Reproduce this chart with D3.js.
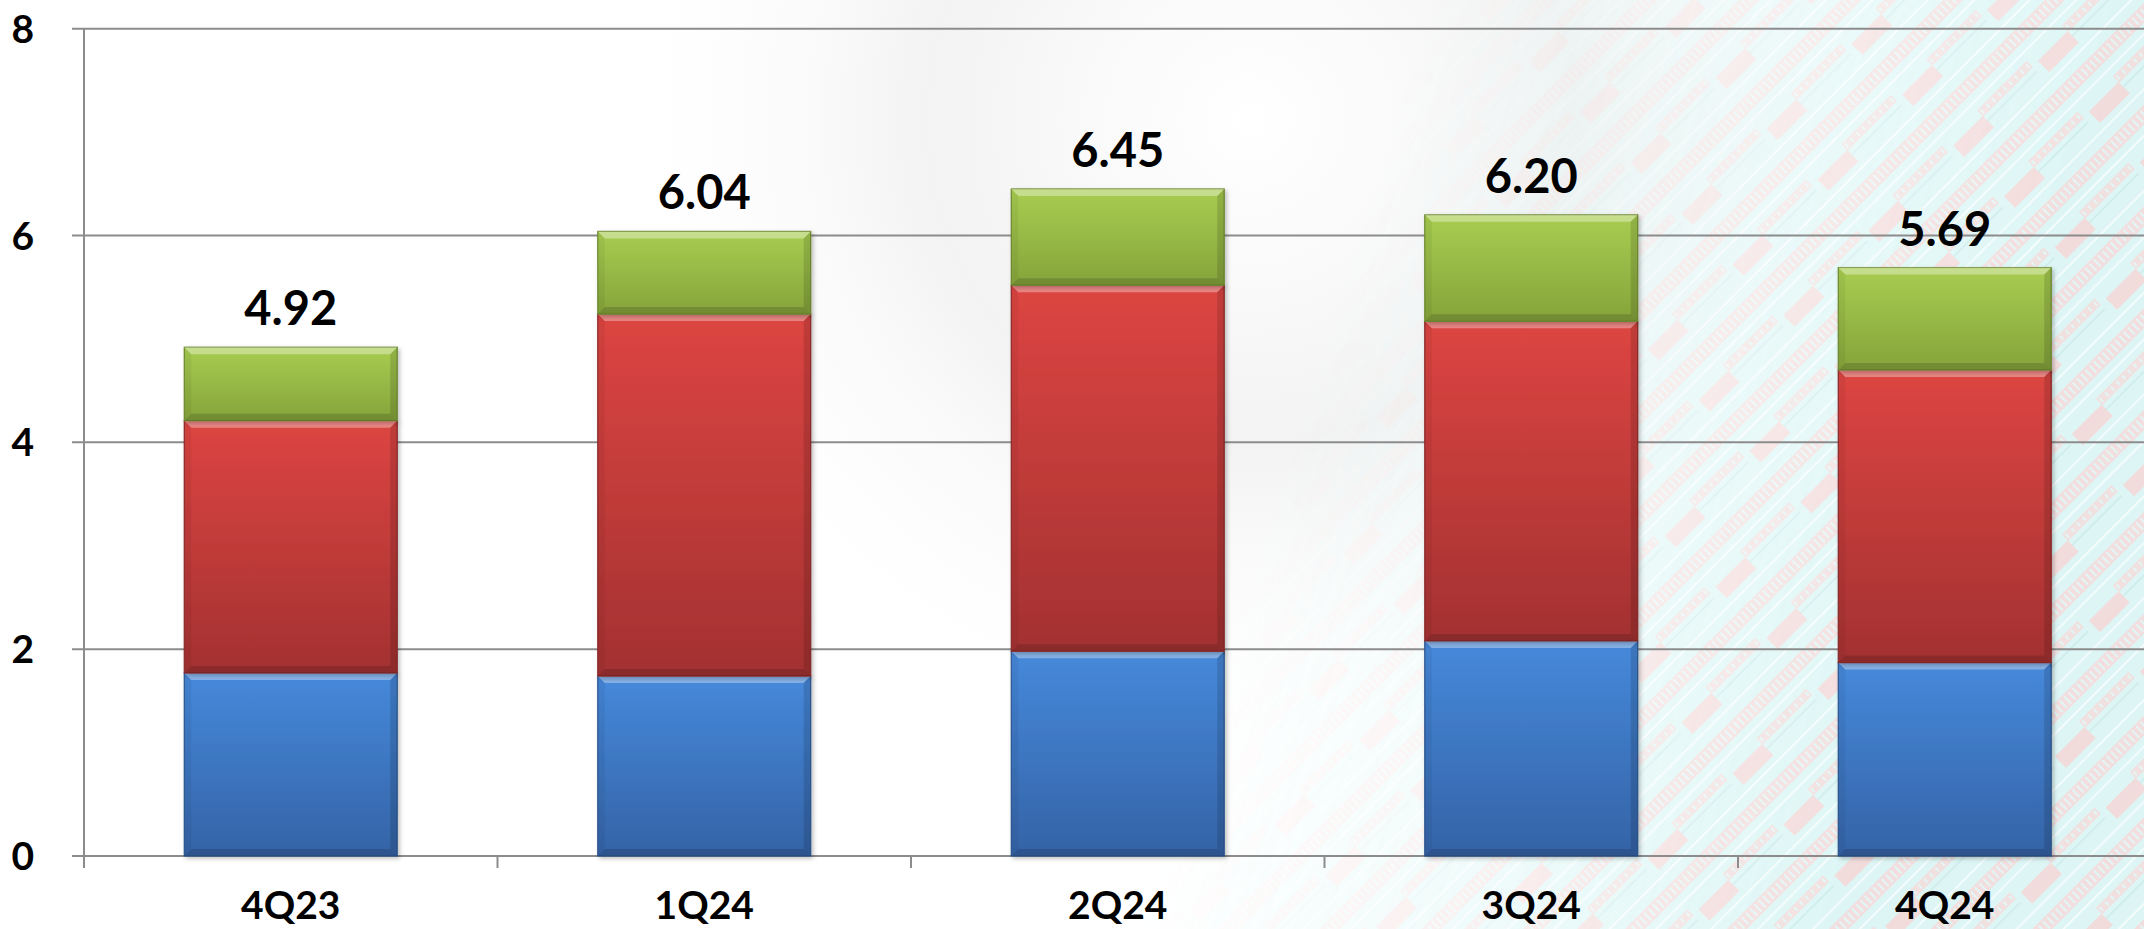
<!DOCTYPE html>
<html>
<head>
<meta charset="utf-8">
<script src="https://cdn.jsdelivr.net/npm/d3@7/dist/d3.min.js"></script>
<style>
  html, body { margin: 0; padding: 0; background: #ffffff; }
  svg { display: block; }
  text { font-family: Lato, "Open Sans", sans-serif; font-weight: 700; fill: #000; }
</style>
</head>
<body>
<svg id="chart" width="2144" height="929"></svg>
<script>
// ---- data ----
const categories = ["4Q23", "1Q24", "2Q24", "3Q24", "4Q24"];
const blueValues  = [1.77, 1.74, 1.98, 2.08, 1.87];
const redValues   = [2.44, 3.50, 3.54, 3.09, 2.83];
const greenValues = [0.71, 0.80, 0.93, 1.03, 0.99];
const totalLabels = ["4.92", "6.04", "6.45", "6.20", "5.69"];
const yTicks = [0, 2, 4, 6, 8];

const seriesKeys = ["blue", "red", "green"];
const seriesColors = {
  blue:  { top: "#4689db", bottom: "#3463a6", stroke: "#2c5690" },
  red:   { top: "#dd4542", bottom: "#a33131", stroke: "#8c2a2a" },
  green: { top: "#a8cd51", bottom: "#85a43b", stroke: "#6f8b30" }
};

const rows = categories.map((c, i) => ({
  cat: c, blue: blueValues[i], red: redValues[i], green: greenValues[i], label: totalLabels[i]
}));

const W = 2144, H = 929;
const svg = d3.select("#chart");
const defs = svg.append("defs");

// ---- background ----
const pat = defs.append("pattern").attr("id", "circuit")
  .attr("patternUnits", "userSpaceOnUse").attr("width", 120).attr("height", 72)
  .attr("patternTransform", "rotate(-45)");
pat.append("rect").attr("width", 120).attr("height", 72).attr("fill", "#d5f4f3");
pat.append("rect").attr("x", 0).attr("y", 6).attr("width", 120).attr("height", 14).attr("fill", "#f0d6d6");
pat.append("rect").attr("x", 0).attr("y", 36).attr("width", 70).attr("height", 9).attr("fill", "#eed9d9");
pat.append("rect").attr("x", 78).attr("y", 44).attr("width", 42).attr("height", 16).attr("fill", "#f0d3d3");
for (let k = 0; k < 120; k += 6) {
  pat.append("rect").attr("x", k).attr("y", 8).attr("width", 2).attr("height", 10).attr("fill", "#dcf5f4");
}
for (let k = 2; k < 70; k += 8) {
  pat.append("rect").attr("x", k).attr("y", 38).attr("width", 2).attr("height", 5).attr("fill", "#dcf5f4");
}
pat.append("rect").attr("x", 0).attr("y", 27).attr("width", 120).attr("height", 2).attr("fill", "#f1fbfb");
pat.append("rect").attr("x", 0).attr("y", 66).attr("width", 120).attr("height", 2).attr("fill", "#f1fbfb");
pat.append("rect").attr("x", 0).attr("y", 50).attr("width", 70).attr("height", 1.5).attr("fill", "#bfe6e5");

const mg = defs.append("linearGradient").attr("id", "fadeGrad")
  .attr("gradientUnits", "userSpaceOnUse")
  .attr("x1", 1250).attr("y1", 560).attr("x2", 1880).attr("y2", 760);
mg.append("stop").attr("offset", 0).attr("stop-color", "#000");
mg.append("stop").attr("offset", 0.5).attr("stop-color", "#777");
mg.append("stop").attr("offset", 1).attr("stop-color", "#fff");
const mask = defs.append("mask").attr("id", "fadeMask")
  .attr("maskUnits", "userSpaceOnUse").attr("x", 0).attr("y", 0).attr("width", W).attr("height", H);
mask.append("rect").attr("width", W).attr("height", H).attr("fill", "url(#fadeGrad)");

const swirl = defs.append("radialGradient").attr("id", "swirl")
  .attr("gradientUnits", "userSpaceOnUse").attr("cx", 1250).attr("cy", 120).attr("r", 650);
swirl.append("stop").attr("offset", 0).attr("stop-color", "#e8e8e8").attr("stop-opacity", 0.0);
swirl.append("stop").attr("offset", 0.5).attr("stop-color", "#e4e4e4").attr("stop-opacity", 0.45);
swirl.append("stop").attr("offset", 1).attr("stop-color", "#ffffff").attr("stop-opacity", 0);

svg.append("rect").attr("width", W).attr("height", H).attr("fill", "#ffffff");
svg.append("rect").attr("width", W).attr("height", H).attr("fill", "url(#swirl)");
svg.append("rect").attr("width", W).attr("height", H).attr("fill", "url(#circuit)")
  .attr("mask", "url(#fadeMask)").attr("opacity", 0.8);

// ---- scales ----
const x = d3.scaleBand().domain(categories).range([84, 2151.5])
  .paddingInner(0.485).paddingOuter(0.2425);
const y = d3.scaleLinear().domain([0, 8]).range([856, 28.7]);

// ---- grid ----
svg.append("g").selectAll("line").data(yTicks).join("line")
  .attr("x1", 72).attr("x2", W).attr("y1", d => y(d)).attr("y2", d => y(d))
  .attr("stroke", "#8c8c8c").attr("stroke-width", 2);

// y axis line
svg.append("line").attr("x1", 84).attr("x2", 84).attr("y1", y(8)).attr("y2", 868)
  .attr("stroke", "#8c8c8c").attr("stroke-width", 2);

// x ticks at band boundaries
const step = x.step();
const boundaries = categories.slice(1).map(c => x(c) - step * x.paddingInner() / 2);
svg.append("g").selectAll("line").data(boundaries).join("line")
  .attr("x1", d => d).attr("x2", d => d).attr("y1", y(0)).attr("y2", 868)
  .attr("stroke", "#8c8c8c").attr("stroke-width", 2);

// y labels
svg.append("g").selectAll("text").data(yTicks).join("text")
  .attr("x", 34).attr("y", d => y(d) + 14).attr("text-anchor", "end")
  .attr("font-size", 39).attr("font-weight", 900).text(d => d);

// x labels
svg.append("g").selectAll("text").data(categories).join("text")
  .attr("x", d => x(d) + x.bandwidth() / 2).attr("y", 919).attr("text-anchor", "middle")
  .attr("font-size", 39).attr("font-weight", 900).text(d => d);

// ---- gradients for bars ----
seriesKeys.forEach(k => {
  const g = defs.append("linearGradient").attr("id", "g-" + k)
    .attr("x1", 0).attr("y1", 0).attr("x2", 0).attr("y2", 1);
  g.append("stop").attr("offset", 0).attr("stop-color", seriesColors[k].top);
  g.append("stop").attr("offset", 1).attr("stop-color", seriesColors[k].bottom);
});
const sh = defs.append("filter").attr("id", "shadow").attr("x", "-10%").attr("y", "-10%")
  .attr("width", "130%").attr("height", "130%");
sh.append("feDropShadow").attr("dx", 2).attr("dy", 2).attr("stdDeviation", 2)
  .attr("flood-color", "#000").attr("flood-opacity", 0.25);

// ---- stacked bars ----
const stack = d3.stack().keys(seriesKeys)(rows);
const bw = x.bandwidth();
const b = 7;
const barsG = svg.append("g");
stack.forEach(layer => {
  const key = layer.key;
  layer.forEach((seg, i) => {
    const x0 = x(rows[i].cat), x1 = x0 + bw;
    const yt = y(seg[1]), yb = y(seg[0]);
    const g = barsG.append("g");
    g.append("rect").attr("x", x0).attr("y", yt).attr("width", bw).attr("height", yb - yt)
      .attr("fill", "url(#g-" + key + ")").attr("stroke", seriesColors[key].stroke)
      .attr("stroke-width", 1.2).attr("filter", "url(#shadow)");
    const poly = (pts, fill, op) => g.append("polygon")
      .attr("points", pts.map(p => p.join(",")).join(" ")).attr("fill", fill).attr("fill-opacity", op);
    poly([[x0, yt], [x1, yt], [x1 - b, yt + b], [x0 + b, yt + b]], "#ffffff", 0.35);
    poly([[x0, yb], [x1, yb], [x1 - b, yb - b], [x0 + b, yb - b]], "#000000", 0.15);
    poly([[x0, yt], [x0 + b, yt + b], [x0 + b, yb - b], [x0, yb]], "#000000", 0.05);
    poly([[x1, yt], [x1 - b, yt + b], [x1 - b, yb - b], [x1, yb]], "#000000", 0.13);
  });
});

// total labels
svg.append("g").selectAll("text").data(rows).join("text")
  .attr("x", d => x(d.cat) + bw / 2)
  .attr("y", d => y(d.blue + d.red + d.green) - 22)
  .attr("text-anchor", "middle").attr("font-size", 47).attr("font-weight", 900)
  .text(d => d.label);
</script>
</body>
</html>
